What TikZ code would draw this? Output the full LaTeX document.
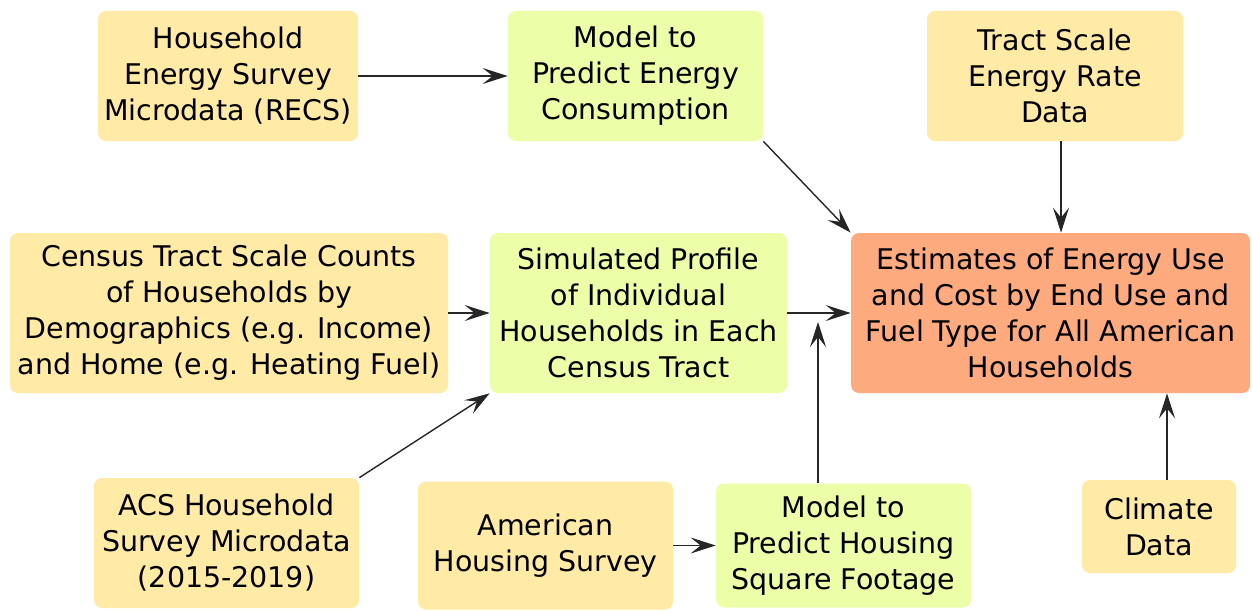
\documentclass[tikz,border=0pt]{standalone}
\usepackage{fontspec}
\setmainfont{DejaVu Sans}
\usetikzlibrary{arrows.meta}
\definecolor{inbox}{HTML}{FFEAA6}
\definecolor{modelbox}{HTML}{ECFEA8}
\definecolor{outbox}{HTML}{FDAB7E}
\begin{document}
\begin{tikzpicture}[box/.style={rounded corners=0.16cm,align=center,inner sep=0pt,
    font=\fontsize{16.2}{20.5}\selectfont},
  src/.style={box,fill=inbox},mdl/.style={box,fill=modelbox},res/.style={box,fill=outbox},
  flow/.style={-{Stealth[length=0.5cm,width=0.32cm,inset=0.2cm]},line width=0.8pt,draw=black!85}]
\useasboundingbox (0,0) rectangle (25.04,12.2);
\node[src,minimum width=5.2cm,minimum height=2.6cm] (recs) at (4.56,10.68) {Household\\Energy Survey\\Microdata (RECS)};
\node[mdl,minimum width=5.1cm,minimum height=2.6cm] (mdlE) at (12.71,10.68) {Model to\\Predict Energy\\Consumption};
\node[src,minimum width=5.12cm,minimum height=2.6cm] (rate) at (21.10,10.68) {Tract Scale\\Energy Rate\\Data};
\node[src,minimum width=8.76cm,minimum height=3.2cm] (cnt) at (4.58,5.94) {Census Tract Scale Counts\\of Households by\\Demographics (e.g. Income)\\and Home (e.g. Heating Fuel)};
\node[mdl,minimum width=5.94cm,minimum height=3.2cm] (sim) at (12.77,5.94) {Simulated Profile\\of Individual\\Households in Each\\Census Tract};
\node[res,minimum width=7.98cm,minimum height=3.2cm] (est) at (21.01,5.94) {Estimates of Energy Use\\and Cost by End Use and\\Fuel Type for All American\\Households};
\node[src,minimum width=5.3cm,minimum height=2.6cm] (acs) at (4.53,1.34) {ACS Household\\Survey Microdata\\(2015-2019)};
\node[src,minimum width=5.1cm,minimum height=2.56cm] (ahs) at (10.91,1.29) {American\\Housing Survey};
\node[mdl,minimum width=5.1cm,minimum height=2.48cm] (mdlH) at (16.87,1.29) {Model to\\Predict Housing\\Square Footage};
\node[src,minimum width=3.08cm,minimum height=1.86cm] (clim) at (23.18,1.67) {Climate\\Data};
\coordinate (join) at (16.36,5.76);
\draw[flow] (recs)--(mdlE);
\draw[flow] (mdlE.south east)--(est.north west);
\draw[flow] ([xshift=0.12cm]rate.south)--([xshift=0.12cm]rate.south|-est.north);
\draw[flow] (cnt)--(sim);
\draw[flow] (acs.north east)--(sim.south west);
\draw[flow] (sim)--(est);
\draw[flow] (ahs)--(mdlH);
\draw[flow] (mdlH.north-|join)--(join);
\draw[flow] ([xshift=0.16cm]clim.north)--([xshift=0.16cm]clim.north|-est.south);
\end{tikzpicture}
\end{document}
